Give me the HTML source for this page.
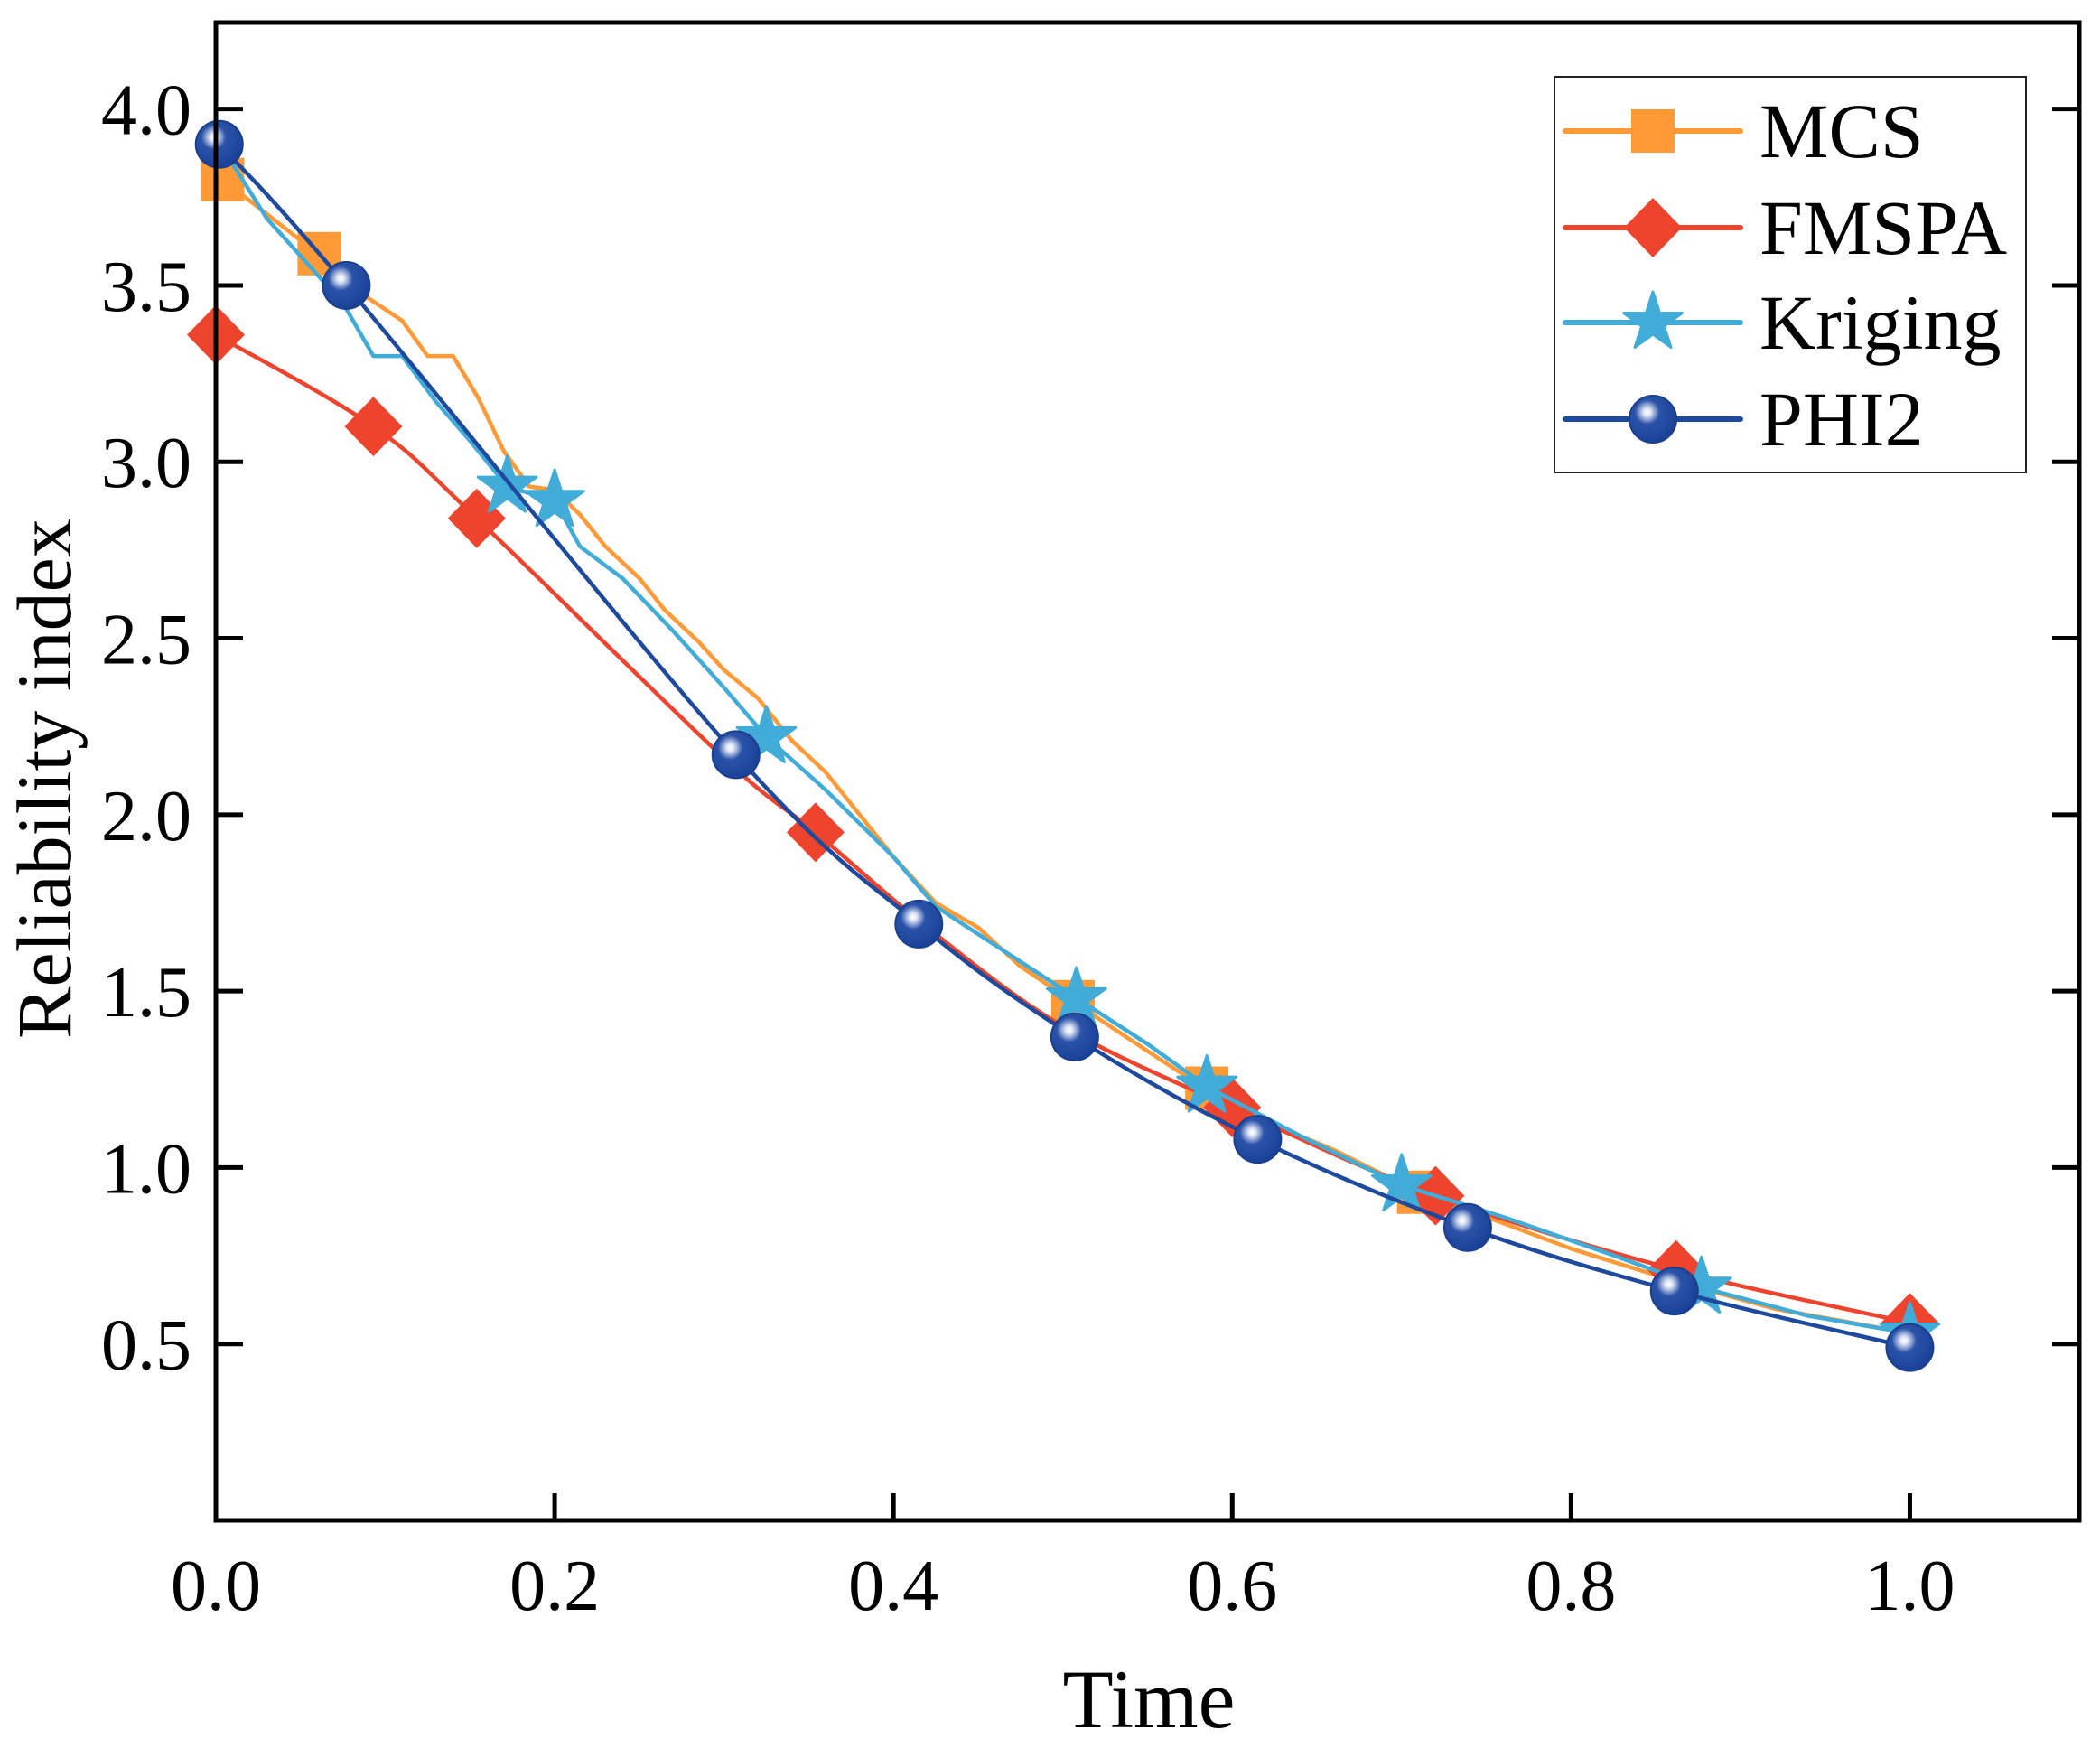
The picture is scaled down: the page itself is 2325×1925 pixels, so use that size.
<!DOCTYPE html>
<html><head><meta charset="utf-8"><style>
html,body{margin:0;padding:0;background:#fff;}
svg{display:block;font-family:"Liberation Serif","Times New Roman",serif;}
</style></head><body>
<svg id="chart" width="2325" height="1925" viewBox="0 0 2325 1925" xmlns="http://www.w3.org/2000/svg">
<defs>
<radialGradient id="ballGrad" cx="0.38" cy="0.35" r="0.65">
<stop offset="0" stop-color="#ffffff"/><stop offset="0.12" stop-color="#dfe6f5"/><stop offset="0.25" stop-color="#8fa3d4"/><stop offset="0.4" stop-color="#2a53a8"/><stop offset="1" stop-color="#1a4299"/>
</radialGradient>
</defs>
<g id="plot"></g>
</svg>
<script>
const xTicks = [0.0, 0.2, 0.4, 0.6, 0.8, 1.0];
const xTickLabels = ["0.0","0.2","0.4","0.6","0.8","1.0"];
const yTicks = [0.5, 1.0, 1.5, 2.0, 2.5, 3.0, 3.5, 4.0];
const yTickLabels = ["0.5","1.0","1.5","2.0","2.5","3.0","3.5","4.0"];

const mcsX = [0.004,0.06,0.085,0.11,0.125,0.14,0.155,0.17,0.185,0.2,0.215,0.23,0.25,0.265,0.285,0.3,0.32,0.34,0.36,0.38,0.4,0.425,0.45,0.475,0.506,0.55,0.585,0.62,0.66,0.71,0.75,0.8,0.86,0.92,1.0];
const mcsY = [3.80,3.59,3.48,3.40,3.30,3.30,3.18,3.03,2.93,2.92,2.85,2.76,2.67,2.58,2.49,2.41,2.33,2.21,2.12,2.00,1.88,1.75,1.68,1.57,1.47,1.33,1.22,1.13,1.05,0.93,0.86,0.77,0.68,0.60,0.53];
const mcsMarkX = [0.004,0.061,0.506,0.585,0.71];
const mcsMarkY = [3.80,3.59,1.47,1.225,0.93];

const fmX = [0.0,0.093,0.154,0.3,0.354,0.42,0.5,0.6,0.72,0.862,1.0];
const fmY = [3.36,3.10,2.84,2.16,1.95,1.68,1.40,1.17,0.92,0.71,0.56];

const krX = [0.0,0.03,0.06,0.075,0.093,0.11,0.13,0.15,0.172,0.2,0.215,0.24,0.27,0.3,0.325,0.36,0.4,0.425,0.46,0.508,0.55,0.585,0.64,0.70,0.76,0.82,0.877,0.94,1.0];
const krY = [3.92,3.69,3.53,3.45,3.30,3.30,3.17,3.06,2.93,2.89,2.76,2.67,2.52,2.36,2.22,2.07,1.88,1.74,1.63,1.48,1.35,1.23,1.09,0.95,0.86,0.76,0.66,0.58,0.53];
const krMarkX = [0.172,0.2,0.325,0.508,0.585,0.70,0.877,1.0];
const krMarkY = [2.93,2.89,2.22,1.48,1.23,0.95,0.66,0.53];

const phX = [0.002,0.077,0.307,0.415,0.507,0.615,0.739,0.861,1.0];
const phY = [3.90,3.50,2.17,1.69,1.37,1.08,0.83,0.65,0.49];

const L=239,R=2302,T=23,B=1683;
const X0=0,X1=1.1,Y0=0,Y1=4.25;
const sx=v=>L+(v-X0)/(X1-X0)*(R-L);
const sy=v=>B-(v-Y0)/(Y1-Y0)*(B-T);
const NS="http://www.w3.org/2000/svg";
const plot=document.getElementById('plot');
function mk(tag,attrs,parent){const e=document.createElementNS(NS,tag);for(const k in attrs)e.setAttribute(k,attrs[k]);(parent||plot).appendChild(e);return e;}

const C={mcs:"#ff9a36",fm:"#ee432c",kr:"#42acd8",ph:"#1e4a9e"};

function linePath(xs,ys){return xs.map((x,i)=>(i?"L":"M")+sx(x).toFixed(1)+","+sy(ys[i]).toFixed(1)).join("");}
function smoothPath(xs,ys){const p=xs.map((x,i)=>[sx(x),sy(ys[i])]);let d="M"+p[0][0]+","+p[0][1];
for(let i=0;i<p.length-1;i++){const p0=p[Math.max(0,i-1)],p1=p[i],p2=p[i+1],p3=p[Math.min(p.length-1,i+2)];
const c1=[p1[0]+(p2[0]-p0[0])/6,p1[1]+(p2[1]-p0[1])/6],c2=[p2[0]-(p3[0]-p1[0])/6,p2[1]-(p3[1]-p1[1])/6];
d+="C"+c1[0].toFixed(1)+","+c1[1].toFixed(1)+" "+c2[0].toFixed(1)+","+c2[1].toFixed(1)+" "+p2[0].toFixed(1)+","+p2[1].toFixed(1);}return d;}

function square(cx,cy,g){const e=mk('rect',{x:cx-24,y:cy-24,width:48,height:48,fill:C.mcs},g);return e;}
function diamond(cx,cy,g){return mk('polygon',{points:`${cx},${cy-33} ${cx+32},${cy} ${cx},${cy+33} ${cx-32},${cy}`,fill:C.fm},g);}
function star(cx,cy,g){let pts=[];for(let i=0;i<10;i++){const r=i%2?13:34;const a=-Math.PI/2+i*Math.PI/5;pts.push((cx+r*Math.cos(a)).toFixed(1)+","+(cy+r*Math.sin(a)).toFixed(1));}
return mk('polygon',{points:pts.join(" "),fill:C.kr,stroke:C.kr,'stroke-width':3,'stroke-linejoin':'round'},g);}
function ball(cx,cy,g){const e=mk('circle',{cx:cx,cy:cy,r:26,fill:"url(#ballGrad)",stroke:"#1a3f8e",'stroke-width':2},g);return e;}

const gM=mk('g',{});
const pM=mk('path',{d:linePath(mcsX,mcsY),fill:'none',stroke:C.mcs,'stroke-width':4.5,'stroke-linejoin':'round'},gM);


mcsMarkX.forEach((x,i)=>{const e=square(sx(x),sy(mcsMarkY[i]),gM);

});

const gF=mk('g',{});
const pF=mk('path',{d:smoothPath(fmX,fmY),fill:'none',stroke:C.fm,'stroke-width':4.5},gF);


[0,1,2,4,7,8,9,10].forEach(i=>{const e=diamond(sx(fmX[i]),sy(fmY[i]),gF);

});

const gK=mk('g',{});
const pK=mk('path',{d:linePath(krX,krY),fill:'none',stroke:C.kr,'stroke-width':4.5,'stroke-linejoin':'round'},gK);


krMarkX.forEach((x,i)=>{const e=star(sx(x),sy(krMarkY[i]),gK);

});

const gP=mk('g',{});
const pP=mk('path',{d:smoothPath(phX,phY),fill:'none',stroke:C.ph,'stroke-width':4.5},gP);


phX.forEach((x,i)=>{const e=ball(sx(x),sy(phY[i]),gP);

});

const frame=mk('rect',{x:L,y:T+2,width:R-L,height:B-T-2,fill:'none',stroke:'#000','stroke-width':5});


xTicks.forEach((v,i)=>{const x=sx(v);
const t=mk('line',{x1:x,y1:B,x2:x,y2:B-30,stroke:'#000','stroke-width':5});


const tx=mk('text',{x:x,y:1782,'font-size':80,'text-anchor':'middle',fill:'#000'});tx.textContent=xTickLabels[i];

});
yTicks.forEach((v,i)=>{const y=sy(v);
const t=mk('line',{x1:L,y1:y,x2:L+30,y2:y,stroke:'#000','stroke-width':5});


const t2=mk('line',{x1:R,y1:y,x2:R-30,y2:y,stroke:'#000','stroke-width':5});


const tx=mk('text',{x:212,y:y+28,'font-size':80,'text-anchor':'end',fill:'#000'});tx.textContent=yTickLabels[i];

});
const xt=mk('text',{x:1272,y:1912,'font-size':92,'text-anchor':'middle',fill:'#000'});xt.textContent="Time";


const yt=mk('text',{x:0,y:0,'font-size':86,'text-anchor':'middle',fill:'#000',transform:'translate(78,862) rotate(-90)'});yt.textContent="Reliability index";



const lg=mk('g',{});
mk('rect',{x:1721,y:85,width:522,height:438,fill:'#fff',stroke:'#222','stroke-width':2},lg);
const names=["MCS","FMSPA","Kriging","PHI2"],cols=[C.mcs,C.fm,C.kr,C.ph],fns=[square,diamond,star,ball],ly=[145,252,357,464];
names.forEach((n,i)=>{const g=mk('g',{},lg);


mk('line',{x1:1733,y1:ly[i],x2:1927,y2:ly[i],stroke:cols[i],'stroke-width':6,'stroke-linecap':'round'},g);
fns[i](1830,ly[i],g);
const t=mk('text',{x:1948,y:ly[i]+29,'font-size':86,fill:'#000'},g);t.textContent=n;});
</script>
</body></html>
